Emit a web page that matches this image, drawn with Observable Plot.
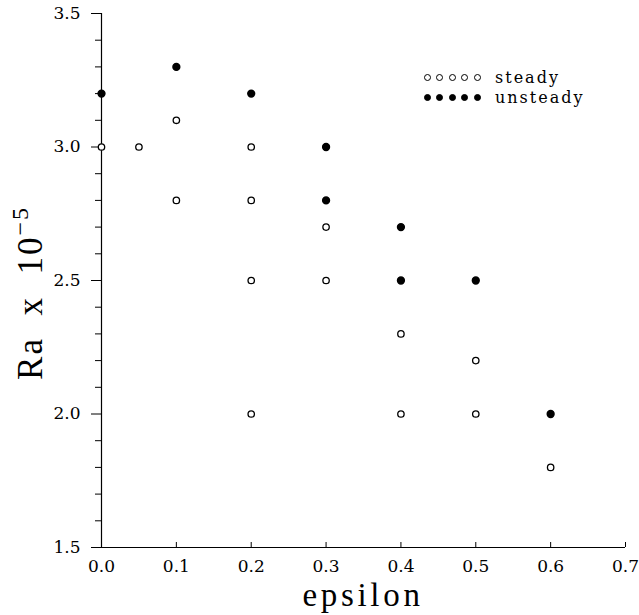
<!DOCTYPE html>
<html>
<head>
<meta charset="utf-8">
<script src="https://cdn.jsdelivr.net/npm/d3@7"></script>
<script src="https://cdn.jsdelivr.net/npm/@observablehq/plot@0.6"></script>
<style>
  html, body { margin: 0; padding: 0; background: white; }
  #wrap { position: relative; width: 639px; height: 615px; }
  .legend { position: absolute; left: 424px; top: 67px; font-family: "DejaVu Serif", serif; font-size: 16px; letter-spacing: 2px; color: #000; }
  .row { display: flex; align-items: center; height: 20px; }
  .dots { display: flex; width: 71px; }
  .c { width: 5px; height: 5px; border-radius: 50%; border: 1.3px solid #000; margin-right: 5.4px; box-sizing: content-box; }
  .c.f { background: #000; }
</style>
</head>
<body>
<div id="wrap"></div>
<script>
// Data
const steadyEps = [0.0, 0.05, 0.1, 0.1, 0.2, 0.2, 0.2, 0.2, 0.3, 0.3, 0.4, 0.4, 0.5, 0.5, 0.6];
const steadyRa  = [3.0, 3.0, 3.1, 2.8, 3.0, 2.8, 2.5, 2.0, 2.7, 2.5, 2.3, 2.0, 2.2, 2.0, 1.8];
const unsteadyEps = [0.0, 0.1, 0.2, 0.3, 0.3, 0.4, 0.4, 0.5, 0.6];
const unsteadyRa  = [3.2, 3.3, 3.2, 3.0, 2.8, 2.7, 2.5, 2.5, 2.0];
const xTicks = [0.0, 0.1, 0.2, 0.3, 0.4, 0.5, 0.6, 0.7];
const yMajor = [1.5, 2.0, 2.5, 3.0, 3.5];
const yMinor = [1.6, 1.7, 1.8, 1.9, 2.1, 2.2, 2.3, 2.4, 2.6, 2.7, 2.8, 2.9, 3.1, 3.2, 3.3, 3.4];
const seriesNames = ["steady", "unsteady"];

const steady = steadyEps.map((e, i) => ({eps: e, ra: steadyRa[i]}));
const unsteady = unsteadyEps.map((e, i) => ({eps: e, ra: unsteadyRa[i]}));

const chart = Plot.plot({
  width: 639,
  height: 615,
  marginLeft: 101,
  marginRight: 14,
  marginTop: 13,
  marginBottom: 68,
  x: {domain: [0, 0.7]},
  y: {domain: [1.5, 3.5]},
  style: {fontFamily: "DejaVu Serif, serif", background: "white", color: "#000"},
  marks: [
    Plot.ruleX([0], {stroke: "#000", strokeWidth: 1.2}),
    Plot.ruleY([1.5], {stroke: "#000", strokeWidth: 1.2}),
    Plot.axisY({ticks: yMajor, tickSize: 10, tickPadding: 11, tickFormat: d => d.toFixed(1), fontSize: 17, label: null, letterSpacing: 1.5}),
    Plot.axisY({ticks: yMinor, tickSize: 6, tickFormat: () => "", label: null}),
    Plot.axisX({ticks: xTicks, tickSize: -5, tickPadding: 17, tickFormat: d => d.toFixed(1), fontSize: 17, label: null, letterSpacing: 1.5}),
    Plot.dot(steady, {x: "eps", y: "ra", r: 3.2, stroke: "#000", strokeWidth: 1.3, fill: "white"}),
    Plot.dot(unsteady, {x: "eps", y: "ra", r: 3.4, fill: "#000", stroke: "#000"})
  ]
});

const svg = d3.select(chart);
svg.append("text")
  .attr("x", 363).attr("y", 606)
  .attr("text-anchor", "middle")
  .attr("font-family", "Liberation Serif, serif")
  .attr("font-size", 33)
  .attr("letter-spacing", 3.7)
  .attr("fill", "#000")
  .text("epsilon");

const yl = svg.append("text")
  .attr("transform", "translate(42,293) rotate(-90)")
  .attr("text-anchor", "middle")
  .attr("font-family", "Liberation Serif, serif")
  .attr("font-size", 35)
  .attr("letter-spacing", 2)
  .attr("fill", "#000");
yl.append("tspan").text("Ra  x  10");
yl.append("tspan").attr("dy", -14).attr("font-size", 24).text("\u22125");

const wrap = document.getElementById("wrap");
wrap.appendChild(chart);

const legend = document.createElement("div");
legend.className = "legend";
seriesNames.forEach((name, k) => {
  const row = document.createElement("div");
  row.className = "row";
  const dots = document.createElement("div");
  dots.className = "dots";
  for (let i = 0; i < 5; i++) {
    const c = document.createElement("span");
    c.className = "c" + (k === 1 ? " f" : "");
    dots.appendChild(c);
  }
  row.appendChild(dots);
  const t = document.createElement("span");
  t.textContent = name;
  row.appendChild(t);
  legend.appendChild(row);
});
wrap.appendChild(legend);
</script>
</body>
</html>
